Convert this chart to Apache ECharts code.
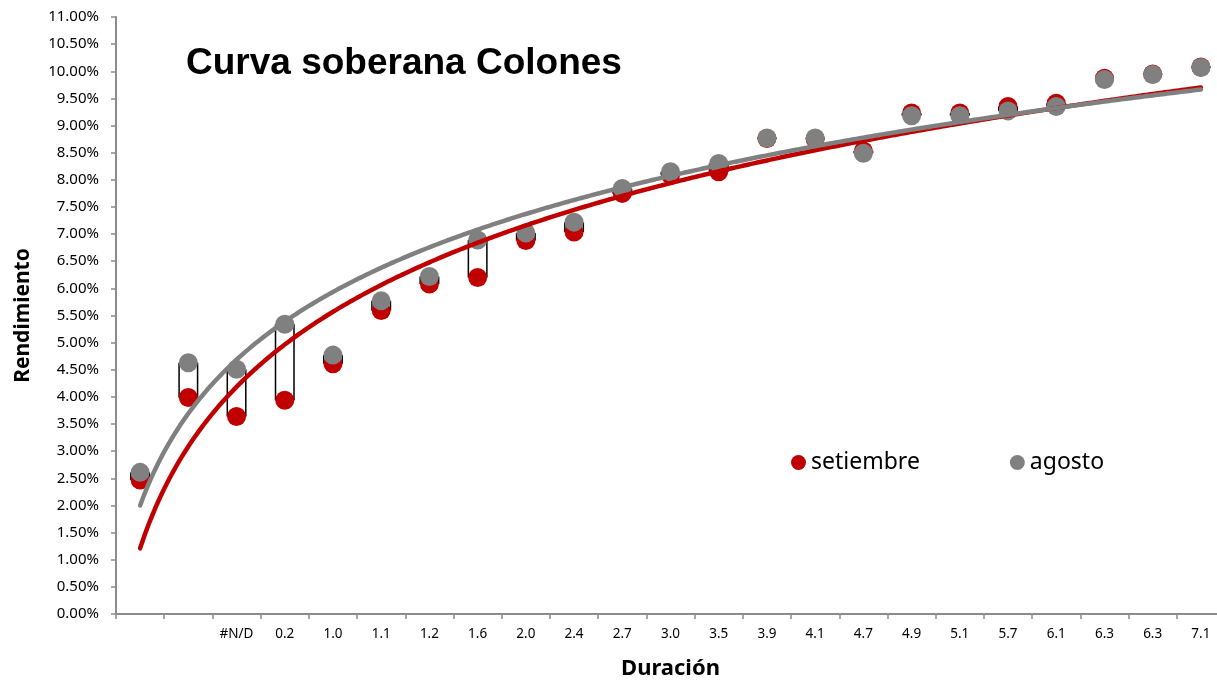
<!DOCTYPE html>
<html>
<head>
<meta charset="utf-8">
<script src="https://cdn.jsdelivr.net/npm/echarts@6/dist/echarts.min.js"></script>
<style>html,body{margin:0;padding:0;background:#fff;overflow:hidden;}#c{width:1240px;height:681px;}</style>
</head>
<body>
<div id="c"></div>
<script>
const categories = ['', '', '#N/D', '0.2', '1.0', '1.1', '1.2', '1.6', '2.0', '2.4', '2.7', '3.0', '3.5', '3.9', '4.1', '4.7', '4.9', '5.1', '5.7', '6.1', '6.3', '6.3', '7.1'];
const setiembre = [2.47, 3.99, 3.64, 3.94, 4.61, 5.59, 6.08, 6.20, 6.88, 7.04, 7.75, 8.09, 8.15, 8.76, 8.75, 8.53, 9.23, 9.23, 9.35, 9.41, 9.87, 9.95, 10.08];
const agosto = [2.61, 4.63, 4.51, 5.34, 4.77, 5.77, 6.22, 6.89, 7.02, 7.22, 7.84, 8.15, 8.30, 8.77, 8.77, 8.49, 9.18, 9.18, 9.27, 9.35, 9.85, 9.94, 10.07];
const yTicks = {min: 0, max: 11, interval: 0.5};

// logarithmic trendline (least squares on ln(index)), like Excel's trendline
function logFit(vals) {
  const n = vals.length;
  const L = vals.map((v, i) => Math.log(i + 1));
  const lm = L.reduce((s, x) => s + x, 0) / n;
  const ym = vals.reduce((s, x) => s + x, 0) / n;
  let sxy = 0, sxx = 0;
  for (let i = 0; i < n; i++) { sxy += (L[i] - lm) * (vals[i] - ym); sxx += (L[i] - lm) * (L[i] - lm); }
  const b = sxy / sxx, a = ym - b * lm;
  const pts = [];
  for (let k = 0; k <= (n - 1) * 20; k++) {
    const t = 1 + k / 20;
    pts.push([t, a + b * Math.log(t)]);
  }
  return pts;
}

const lowVals = setiembre.map((v, i) => Math.min(v, agosto[i]));
const diffVals = setiembre.map((v, i) => Math.abs(v - agosto[i]));

const chart = echarts.init(document.getElementById('c'));
chart.setOption({
  animation: false,
  backgroundColor: '#fff',
  title: {
    text: 'Curva soberana Colones',
    left: 181, top: 40,
    textStyle: {fontFamily: 'Liberation Sans', fontWeight: 'bold', fontSize: 37, color: '#000'}
  },
  legend: {
    data: ['setiembre', 'agosto'],
    left: 786, top: 446,
    icon: 'circle', itemWidth: 15, itemHeight: 15, itemGap: 90,
    textStyle: {fontFamily: 'Noto Sans', fontSize: 23, color: '#000'}
  },
  grid: {left: 116, top: 17, width: 1109, height: 597, containLabel: false, outerBoundsMode: 'none'},
  xAxis: [{
    type: 'category',
    data: categories,
    name: 'Duración',
    nameLocation: 'middle',
    nameGap: 44,
    nameTextStyle: {fontFamily: 'Noto Sans', fontWeight: 'bold', fontSize: 22, color: '#000'},
    axisLine: {lineStyle: {color: '#8c8c8c', width: 2}},
    axisTick: {show: true, length: 5, lineStyle: {color: '#8c8c8c', width: 1.5}},
    axisLabel: {interval: 0, margin: 13, fontFamily: 'Noto Sans', fontSize: 13.5, color: '#000'},
    splitLine: {show: false}
  }, {
    type: 'value', min: 0.5, max: 23.5, show: false
  }],
  yAxis: {
    type: 'value',
    min: yTicks.min, max: yTicks.max, interval: yTicks.interval,
    name: 'Rendimiento',
    nameLocation: 'middle',
    nameGap: 82,
    nameTextStyle: {fontFamily: 'Noto Sans', fontWeight: 'bold', fontSize: 21, color: '#000'},
    axisLine: {show: true, lineStyle: {color: '#8c8c8c', width: 2}},
    axisTick: {show: true, length: 5, lineStyle: {color: '#8c8c8c', width: 1.5}},
    axisLabel: {margin: 17, fontFamily: 'Noto Sans', fontSize: 15, color: '#000', formatter: v => v.toFixed(2) + '%'},
    splitLine: {show: false}
  },
  series: [
    {name: 'base', type: 'bar', stack: 'ud', xAxisIndex: 0, data: lowVals, barWidth: 20, itemStyle: {color: 'rgba(0,0,0,0)'}, silent: true, z: 1},
    {name: 'updown', type: 'bar', stack: 'ud', xAxisIndex: 0, data: diffVals, barWidth: 20, itemStyle: {color: '#fff', borderColor: '#000', borderWidth: 1.5}, silent: true, z: 1},
    {name: 'setiembre', type: 'scatter', xAxisIndex: 0, data: setiembre, symbol: 'circle', symbolSize: 19, itemStyle: {color: '#C00000', opacity: 1}, z: 3},
    {name: 'agosto', type: 'scatter', xAxisIndex: 0, data: agosto, symbol: 'circle', symbolSize: 19, itemStyle: {color: '#808080', opacity: 1}, z: 4},
    {name: 'tend_set', type: 'line', xAxisIndex: 1, data: logFit(setiembre), showSymbol: false, symbol: 'none', lineStyle: {color: '#C00000', width: 4.5, cap: 'round'}, z: 5},
    {name: 'tend_ago', type: 'line', xAxisIndex: 1, data: logFit(agosto), showSymbol: false, symbol: 'none', lineStyle: {color: '#808080', width: 4.5, cap: 'round'}, z: 6}
  ]
});
</script>
</body>
</html>
